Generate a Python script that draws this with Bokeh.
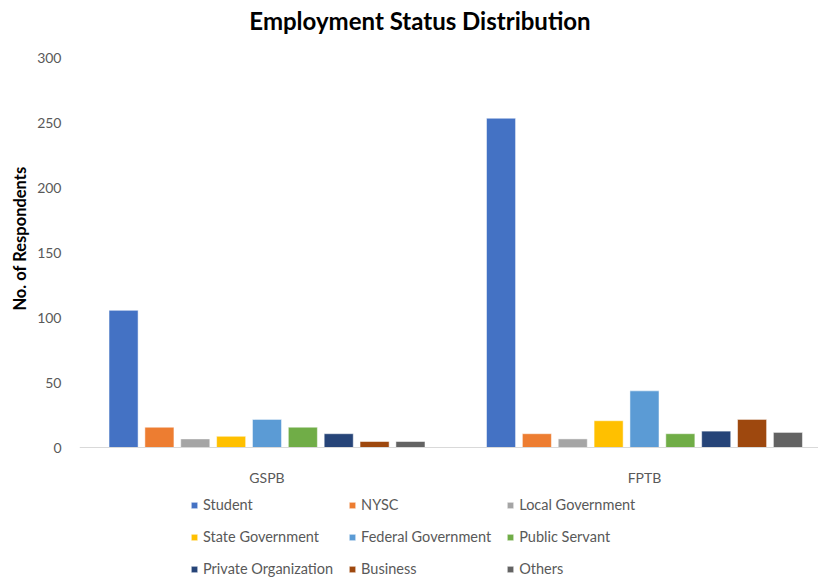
from bokeh.plotting import figure
from bokeh.models import (Range1d, FixedTicker, Legend, LegendItem, ColumnDataSource,
                          LinearAxis, Label, Title)
from bokeh.embed import file_html
from bokeh.resources import INLINE

title_text = "Employment Status Distribution"
y_title = "No. of Respondents"
groups = ["GSPB", "FPTB"]
series = ["Student", "NYSC", "Local Government", "State Government", "Federal Government",
          "Public Servant", "Private Organization", "Business", "Others"]
gspb = [106, 16, 7, 9, 22, 16, 11, 5, 5]
fptb = [254, 11, 7, 21, 44, 11, 13, 22, 12]
colors = ["#4472C4", "#ED7D31", "#A5A5A5", "#FFC000", "#5B9BD5",
          "#70AD47", "#264478", "#9E480E", "#636363"]
yticks = [0, 50, 100, 150, 200, 250, 300]

FONT = "Lato"

p = figure(width=818, height=578, output_backend="svg", toolbar_location=None,
           x_range=Range1d(0.0033, 1.961), y_range=Range1d(-100.52, 344.67),
           x_axis_location=None,
           min_border_left=79, min_border_right=0, min_border_top=0, min_border_bottom=0)

centers = [i + 0.5 for i in range(len(groups))]
step = 0.095
bw = 0.077
items = []
for j, name in enumerate(series):
    off = (j - (len(series) - 1) / 2) * step
    src = ColumnDataSource(dict(x=[c + off for c in centers], top=[gspb[j], fptb[j]]))
    r = p.vbar(x="x", top="top", width=bw, source=src, fill_color=colors[j],
               line_color="white", line_alpha=0.5, line_width=1)
    items.append(LegendItem(label=name, renderers=[r]))

xaxis = LinearAxis(fixed_location=0)
p.add_layout(xaxis, "below")
xaxis.ticker = FixedTicker(ticks=centers)
xaxis.major_label_overrides = {c: g for c, g in zip(centers, groups)}
xaxis.major_tick_line_color = None
xaxis.minor_tick_line_color = None
xaxis.axis_line_color = "#D9D9D9"
xaxis.axis_line_width = 1
xaxis.major_label_text_font = FONT
xaxis.major_label_text_font_size = "14px"
xaxis.major_label_text_color = "#595959"
xaxis.major_label_standoff = 15

p.xgrid.visible = False
p.ygrid.visible = False
p.outline_line_color = None

p.yaxis.ticker = FixedTicker(ticks=yticks)
p.yaxis.axis_line_color = None
p.yaxis.major_tick_line_color = None
p.yaxis.minor_tick_line_color = None
p.yaxis.major_label_text_font = FONT
p.yaxis.major_label_text_font_size = "14px"
p.yaxis.major_label_text_color = "#595959"
p.yaxis.major_label_standoff = 12

ytitle = Title(text=y_title, align="right", offset=166, text_font=FONT,
               text_font_size="16.5px", text_font_style="bold", text_color="#000000",
               standoff=10)
p.add_layout(ytitle, "left")

p.add_layout(Label(x=340.5, y=558, x_units="screen", y_units="screen", text=title_text,
                   text_align="center", text_baseline="middle", text_font=FONT,
                   text_font_size="24px", text_font_style="bold", text_color="#000000"))

legend = Legend(items=items, orientation="horizontal", ncols=3, location=(111, 1),
                label_text_font=FONT, label_text_font_size="14.5px", label_text_color="#595959",
                glyph_width=8, glyph_height=8, label_height=16, label_standoff=5,
                spacing=15, padding=0, margin=0, border_line_color=None,
                background_fill_alpha=0)
p.add_layout(legend, "center")

open("out.html", "w").write(file_html(p, INLINE))
